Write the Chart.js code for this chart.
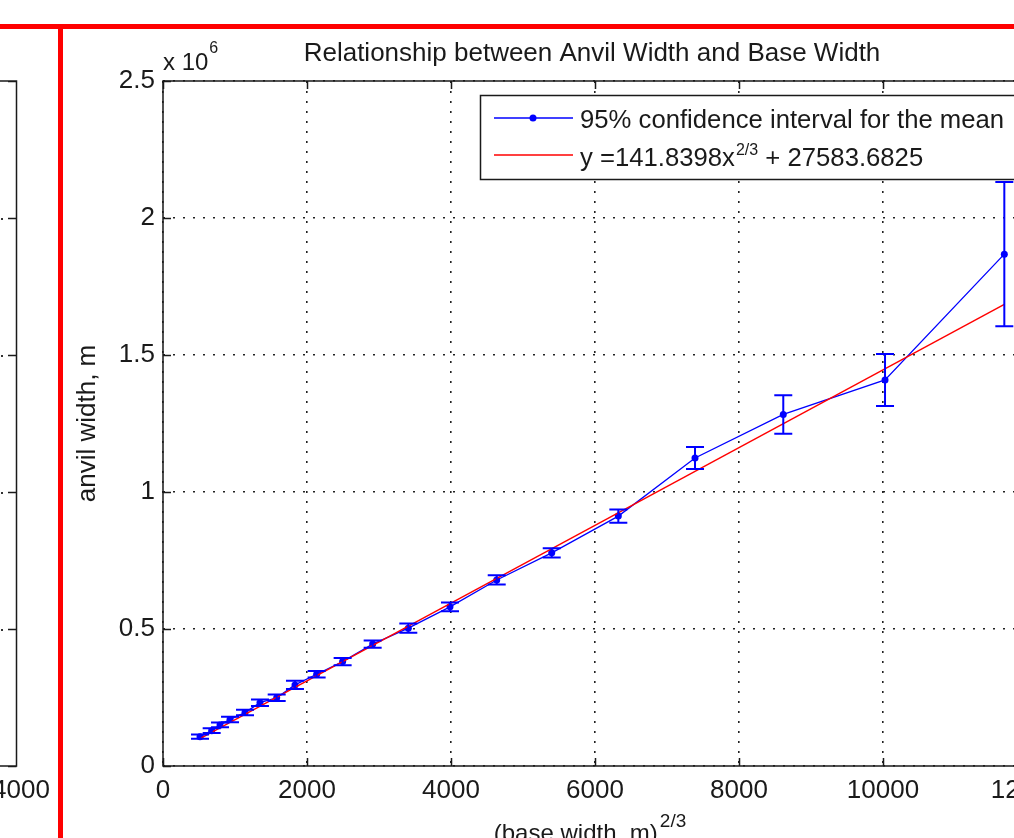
<!DOCTYPE html>
<html>
<head>
<meta charset="utf-8">
<script src="https://cdn.jsdelivr.net/npm/chart.js@4.4.1/dist/chart.umd.min.js"></script>
<style>
  html, body { margin: 0; padding: 0; background: #fff; overflow: hidden; }
  #wrap { position: relative; width: 1060px; height: 838px; }
</style>
</head>
<body>
<div id="wrap"><canvas id="chart1" width="1060" height="838"></canvas></div>
<script>
// values
// x = (base width, m)^(2/3), y = anvil width in m
const baseWidth = [514, 676, 792, 931, 1139, 1347, 1579, 1833, 2134, 2495, 2912, 3407, 3986, 4635, 5399, 6324, 7389, 8615, 10028, 11685];
const anvilWidth = [107000, 129000, 150000, 170000, 195000, 231000, 249000, 296000, 335000, 381000, 445000, 503000, 581000, 679000, 778000, 912000, 1124000, 1283000, 1409000, 1868000];
// half width of the 95% confidence interval
const ciHalf = [8000, 9000, 9000, 10000, 10000, 12000, 12000, 15000, 12000, 13000, 13000, 17000, 16000, 17000, 17000, 24000, 40000, 70000, 95000, 263000];

// fitted curve, two ends
const fitX = [514, 11685];
const fitY = [100000, 1685000];

const xTicks = [0, 2000, 4000, 6000, 8000, 10000, 12000];
const yTicks = [0, 500000, 1000000, 1500000, 2000000, 2500000];

const titleText = 'Relationship between Anvil Width and Base Width';
const yLabel = 'anvil width, m';
const xLabel = '(base width, m)';
const xLabelSup = '2/3';
const legendMean = '95% confidence interval for the mean';
const legendFit = ['y =141.8398x', '2/3', ' + 27583.6825'];

const FONT = '"Liberation Sans", Arial, Helvetica, sans-serif';
const BLUE = '#0000ff';
const RED = '#ff0000';
const INK = '#1a1a1a';

// error bars on the blue series
const errorBars = {
  id: 'errorBars',
  afterDatasetsDraw(chart) {
    const { ctx, scales: { x, y } } = chart;
    ctx.save();
    ctx.strokeStyle = BLUE;
    ctx.lineWidth = 2;
    baseWidth.forEach((bx, i) => {
      const px = x.getPixelForValue(bx);
      const top = y.getPixelForValue(anvilWidth[i] + ciHalf[i]);
      const bot = y.getPixelForValue(anvilWidth[i] - ciHalf[i]);
      ctx.beginPath();
      ctx.moveTo(px, top); ctx.lineTo(px, bot);
      ctx.moveTo(px - 9, top); ctx.lineTo(px + 9, top);
      ctx.moveTo(px - 9, bot); ctx.lineTo(px + 9, bot);
      ctx.stroke();
    });
    ctx.restore();
  }
};

// matlab style frame, inward ticks, labels, legend and the screenshot bits
const matlabFrame = {
  id: 'matlabFrame',
  afterDraw(chart) {
    const { ctx, chartArea: a, scales: { x, y } } = chart;
    ctx.save();

    // box
    ctx.strokeStyle = INK;
    ctx.lineWidth = 1.5;
    ctx.strokeRect(a.left, a.top, a.right - a.left, a.bottom - a.top);

    // inward ticks
    ctx.beginPath();
    xTicks.forEach(v => {
      const px = Math.round(x.getPixelForValue(v)) + 0.5;
      ctx.moveTo(px, a.bottom); ctx.lineTo(px, a.bottom - 8);
      ctx.moveTo(px, a.top); ctx.lineTo(px, a.top + 8);
    });
    yTicks.forEach(v => {
      const py = Math.round(y.getPixelForValue(v)) + 0.5;
      ctx.moveTo(a.left, py); ctx.lineTo(a.left + 8, py);
    });
    ctx.stroke();

    // title
    ctx.fillStyle = INK;
    ctx.font = '26px ' + FONT;
    ctx.textAlign = 'center';
    ctx.textBaseline = 'alphabetic';
    ctx.fillText(titleText, 592, 61);

    // exponent
    ctx.textAlign = 'left';
    ctx.font = '24px ' + FONT;
    ctx.fillText('x 10', a.left, 70);
    const w10 = ctx.measureText('x 10').width;
    ctx.font = '16px ' + FONT;
    ctx.fillText('6', a.left + w10 + 1, 53);

    // y label
    ctx.save();
    ctx.translate(95, (a.top + a.bottom) / 2);
    ctx.rotate(-Math.PI / 2);
    ctx.font = '26px ' + FONT;
    ctx.textAlign = 'center';
    ctx.fillText(yLabel, 0, 0);
    ctx.restore();

    // x label with superscript
    ctx.font = '24px ' + FONT;
    const wx = ctx.measureText(xLabel).width;
    ctx.font = '19px ' + FONT;
    const ws = ctx.measureText(xLabelSup).width;
    const x0 = 595 - (wx + ws) / 2 - 6;
    ctx.font = '24px ' + FONT;
    ctx.fillText(xLabel, x0, 841);
    ctx.font = '19px ' + FONT;
    ctx.fillText(xLabelSup, x0 + wx + 2, 827);

    // legend
    const lx = 480, ly = 95, lw = 560, lh = 84;
    ctx.fillStyle = '#fff';
    ctx.fillRect(lx, ly, lw, lh);
    ctx.strokeStyle = INK;
    ctx.lineWidth = 1.5;
    ctx.strokeRect(lx + 0.5, ly + 0.5, lw, lh);

    ctx.lineWidth = 1.3;
    ctx.strokeStyle = BLUE;
    ctx.beginPath(); ctx.moveTo(494, 118); ctx.lineTo(573, 118); ctx.stroke();
    ctx.fillStyle = BLUE;
    ctx.beginPath(); ctx.arc(533, 118, 3.5, 0, Math.PI * 2); ctx.fill();
    ctx.strokeStyle = RED;
    ctx.beginPath(); ctx.moveTo(494, 155); ctx.lineTo(573, 155); ctx.stroke();

    ctx.fillStyle = INK;
    ctx.font = '25.7px ' + FONT;
    ctx.fillText(legendMean, 580, 128);
    let tx = 580;
    ctx.fillText(legendFit[0], tx, 166);
    tx += ctx.measureText(legendFit[0]).width + 1;
    ctx.font = '16px ' + FONT;
    ctx.fillText(legendFit[1], tx, 155);
    tx += ctx.measureText(legendFit[1]).width;
    ctx.font = '25.7px ' + FONT;
    ctx.fillText(legendFit[2], tx, 166);

    // edge of the neighbouring subplot
    ctx.strokeStyle = INK;
    ctx.lineWidth = 1.5;
    ctx.beginPath();
    ctx.moveTo(0, a.top); ctx.lineTo(16.5, a.top); ctx.lineTo(16.5, a.bottom); ctx.lineTo(0, a.bottom);
    yTicks.forEach(v => {
      const py = Math.round(y.getPixelForValue(v)) + 0.5;
      ctx.moveTo(16.5, py); ctx.lineTo(8, py);
    });
    ctx.stroke();
    ctx.fillStyle = '#333';
    yTicks.slice(1, -1).forEach(v => {
      const py = Math.round(y.getPixelForValue(v));
      ctx.fillRect(1, py, 2, 2);
    });
    ctx.fillStyle = INK;
    ctx.font = '26px ' + FONT;
    ctx.textAlign = 'center';
    ctx.fillText('4000', 21, 798);

    // red selection frame of the screenshot
    ctx.fillStyle = RED;
    ctx.fillRect(0, 24, chart.width, 5);
    ctx.fillRect(58, 24, 5, chart.height - 24);

    ctx.restore();
  }
};

document.addEventListener('DOMContentLoaded', function() {
  const ctx1 = document.getElementById('chart1');
  new Chart(ctx1, {
    type: 'scatter',
    data: {
      datasets: [{
        label: 'fit',
        data: fitX.map((v, i) => ({ x: v, y: fitY[i] })),
        showLine: true,
        borderColor: RED,
        borderWidth: 1.4,
        pointRadius: 0,
        order: 0
      }, {
        label: legendMean,
        data: baseWidth.map((v, i) => ({ x: v, y: anvilWidth[i] })),
        showLine: true,
        borderColor: BLUE,
        backgroundColor: BLUE,
        borderWidth: 1.3,
        pointRadius: 3.5,
        pointBorderWidth: 0,
        order: 1
      }]
    },
    options: {
      responsive: false,
      animation: false,
      layout: { padding: { top: 81, right: 33, left: 0, bottom: 0 } },
      plugins: {
        legend: { display: false },
        tooltip: { enabled: false }
      },
      scales: {
        x: {
          type: 'linear',
          min: 0,
          max: 12000,
          afterFit: s => { s.height = 72; s.paddingLeft = 0; s.paddingRight = 0; },
          afterBuildTicks: s => { s.ticks = xTicks.map(v => ({ value: v })); },
          ticks: {
            color: INK,
            padding: 9,
            maxRotation: 0,
            autoSkip: false,
            font: { family: FONT, size: 26 },
            callback: v => String(v)
          },
          grid: { color: '#222', lineWidth: 1.6, drawTicks: false },
          border: { display: false, dash: [2, 8] }
        },
        y: {
          type: 'linear',
          min: 0,
          max: 2500000,
          afterFit: s => { s.width = 163; s.paddingTop = 0; s.paddingBottom = 0; },
          afterBuildTicks: s => { s.ticks = yTicks.map(v => ({ value: v })); },
          ticks: {
            color: INK,
            padding: 8,
            autoSkip: false,
            font: { family: FONT, size: 26 },
            callback: v => String(v / 1e6)
          },
          grid: { color: '#222', lineWidth: 1.6, drawTicks: false },
          border: { display: false, dash: [2, 8] }
        }
      }
    },
    plugins: [errorBars, matlabFrame]
  });
});
</script>
</body>
</html>
